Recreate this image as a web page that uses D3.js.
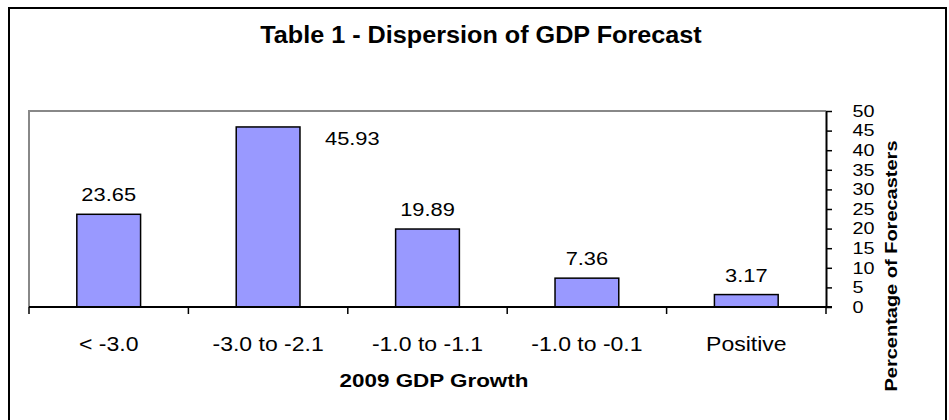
<!DOCTYPE html>
<html>
<head>
<meta charset="utf-8">
<script src="https://cdn.jsdelivr.net/npm/d3@7"></script>
<style>
  html, body { margin: 0; padding: 0; background: #fff; }
  svg { display: block; font-family: Arial, 'Liberation Sans', sans-serif; }
</style>
</head>
<body>
<div id="chart"></div>
<script>
const categories = ['< -3.0', '-3.0 to -2.1', '-1.0 to -1.1', '-1.0 to -0.1', 'Positive'];
const values = [23.65, 45.93, 19.89, 7.36, 3.17];
const yTicks = [0, 5, 10, 15, 20, 25, 30, 35, 40, 45, 50];

const title = 'Table 1 - Dispersion of GDP Forecast';
const xLabel = '2009 GDP Growth';
const yLabel = 'Percentage of Forecasters';

const width = 949;
const height = 420;
const margin = { top: 111, right: 123, bottom: 113, left: 29 };
const plotW = width - margin.left - margin.right;
const plotH = height - margin.top - margin.bottom;

const svg = d3.select('#chart')
  .append('svg')
  .attr('width', width)
  .attr('height', height);

// outer frame
svg.append('rect')
  .attr('x', 9)
  .attr('y', 8)
  .attr('width', 937)
  .attr('height', 430)
  .attr('fill', 'none')
  .attr('stroke', '#000')
  .attr('stroke-width', 2);

// text helper, glyphs in the picture are a bit wide
const addText = (parent, x, y, str, size, sx, weight, anchor) =>
  parent.append('text')
    .attr('transform', `translate(${x},${y}) scale(${sx},1)`)
    .attr('text-anchor', anchor || 'middle')
    .style('font-size', `${size}px`)
    .style('font-weight', weight || 'normal')
    .text(str);

addText(svg, 481, 43, title, 24, 1.05, 'bold');

const g = svg.append('g')
  .attr('transform', `translate(${margin.left},${margin.top})`);

const x = d3.scaleBand()
  .domain(categories)
  .range([0, plotW])
  .paddingInner(0.6)
  .paddingOuter(0.3);

const y = d3.scaleLinear().domain([0, 50]).range([plotH, 0]);

// plot area frame (grey top and left)
g.append('path')
  .attr('d', `M0,${plotH}V0H${plotW}`)
  .attr('fill', 'none')
  .attr('stroke', '#888')
  .attr('stroke-width', 2);

// bars
g.selectAll('rect.bar')
  .data(values)
  .enter()
  .append('rect')
  .attr('class', 'bar')
  .attr('x', (d, i) => x(categories[i]))
  .attr('y', d => y(d))
  .attr('width', x.bandwidth())
  .attr('height', d => plotH - y(d))
  .attr('fill', '#9999FF')
  .attr('stroke', '#000')
  .attr('stroke-width', 1.5);

// value labels; the tallest one sits beside its bar
values.forEach((d, i) => {
  const cx = x(categories[i]) + x.bandwidth() / 2;
  if (y(d) < 25) {
    addText(g, x(categories[i]) + x.bandwidth() + 25, y(d) + 18, d.toFixed(2), 19, 1.15, 'normal', 'start');
  } else {
    addText(g, cx, y(d) - 13, d.toFixed(2), 19, 1.15);
  }
});

// bottom axis line with boundary ticks
const bounds = d3.scaleLinear().domain([0, categories.length]).range([0, plotW]);
g.append('line')
  .attr('x1', 0)
  .attr('x2', plotW + 6)
  .attr('y1', plotH)
  .attr('y2', plotH)
  .attr('stroke', '#000')
  .attr('stroke-width', 2);
g.selectAll('line.xtick')
  .data(d3.range(categories.length + 1))
  .enter()
  .append('line')
  .attr('class', 'xtick')
  .attr('x1', d => bounds(d))
  .attr('x2', d => bounds(d))
  .attr('y1', plotH)
  .attr('y2', plotH + 7)
  .attr('stroke', '#000')
  .attr('stroke-width', 1.5);

categories.forEach(c => {
  addText(g, x(c) + x.bandwidth() / 2, plotH + 44, c, 19.5, 1.18);
});

// right value axis, labels packed tight so font kept small and widened
const yAxis = g.append('g')
  .attr('transform', `translate(${plotW},0)`)
  .call(d3.axisRight(y).tickValues(yTicks).tickSize(6).tickPadding(16).tickSizeOuter(0));
yAxis.select('.domain').attr('stroke', '#000').attr('stroke-width', 2);
yAxis.selectAll('.tick line').attr('stroke', '#000').attr('stroke-width', 1.5);
yAxis.selectAll('.tick text')
  .attr('fill', '#000')
  .attr('transform', 'scale(1.2,1)')
  .style('font-size', '16.5px')
  .style('font-family', "Arial, 'Liberation Sans', sans-serif");

// axis titles
addText(svg, 434, 387, xLabel, 19, 1.18, 'bold');

svg.append('text')
  .attr('transform', `translate(897,266) rotate(-90) scale(1,0.85)`)
  .attr('text-anchor', 'middle')
  .style('font-size', '20px')
  .style('font-weight', 'bold')
  .text(yLabel);
</script>
</body>
</html>
